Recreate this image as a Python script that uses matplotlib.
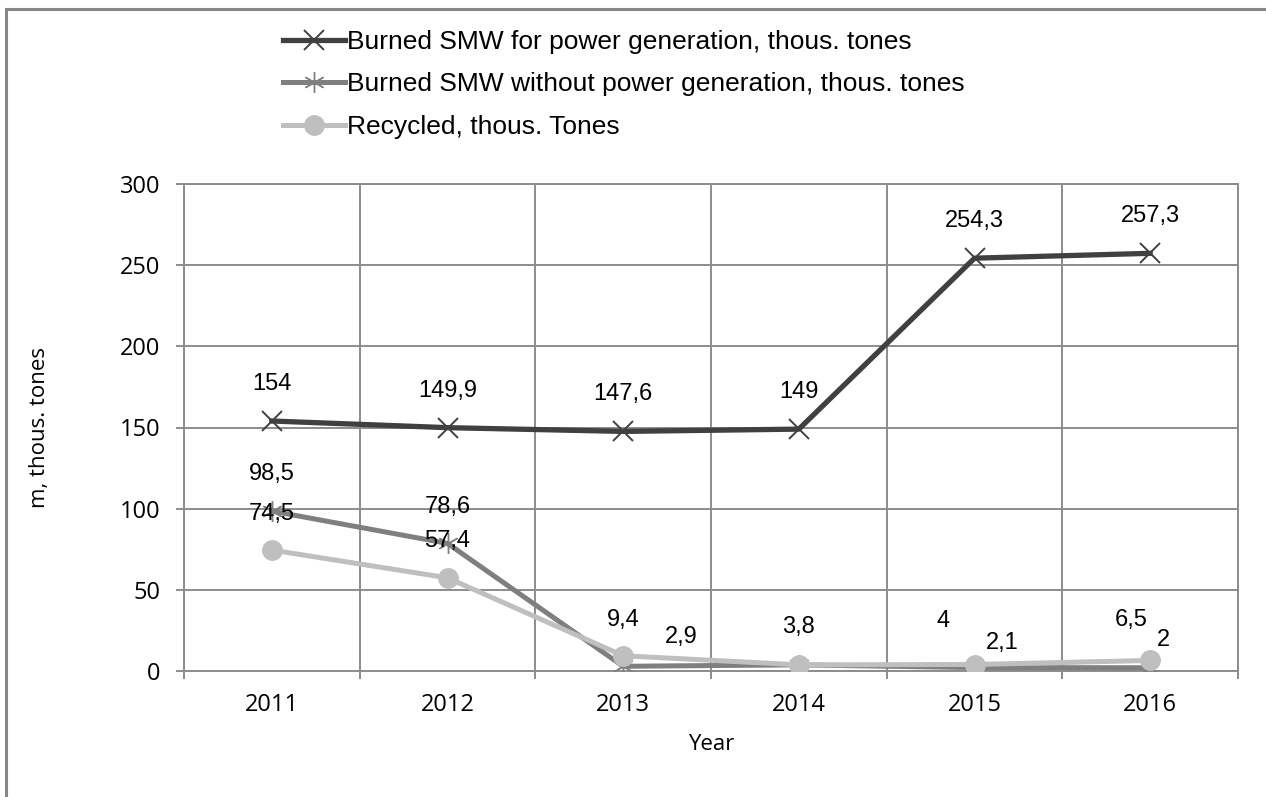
import matplotlib
matplotlib.use("Agg")
import matplotlib.pyplot as plt
from matplotlib.lines import Line2D
from matplotlib.patches import Rectangle

years = ["2011", "2012", "2013", "2014", "2015", "2016"]
burned_power = [154, 149.9, 147.6, 149, 254.3, 257.3]
burned_no_power = [98.5, 78.6, 2.9, 3.8, 2.1, 2]
recycled = [74.5, 57.4, 9.4, 3.8, 4, 6.5]
labels_power = ["154", "149,9", "147,6", "149", "254,3", "257,3"]
labels_no_power = ["98,5", "78,6", "2,9", "", "2,1", "2"]  # 2014 label hidden under recycled label
labels_recycled = ["74,5", "57,4", "9,4", "3,8", "4", "6,5"]
series_names = ["Burned SMW for power generation, thous. tones",
                "Burned SMW without power generation, thous. tones",
                "Recycled, thous. Tones"]

# label offsets in pixels (dx, dy)
off_power = [(0, 37)] * 6
off_no_power = [(0, 37), (0, 36), (58, 29), (0, 38), (28, 25), (13, 28)]
off_recycled = [(0, 36), (0, 37), (0, 36), (0, 38), (-31, 44), (-19, 40)]

W, H = 1266, 797
fig = plt.figure(figsize=(W / 100, H / 100), dpi=100)
fig.patch.set_facecolor("white")

narrow = ["Liberation Sans", "DejaVu Sans"]
tickfont = ["Open Sans", "DejaVu Sans"]

ax = fig.add_axes([184 / W, 1 - 671 / H, (1238 - 184) / W, (671 - 184) / H])
x = list(range(len(years)))

c1, c2, c3 = "#404040", "#7f7f7f", "#bfbfbf"
st1 = dict(color=c1, lw=3.8, marker="x", ms=14, mew=1.4, mec=c1)
st2 = dict(color=c2, lw=3.6, marker=(6, 2, 0), ms=15, mew=1.0, mec=c2)
st3 = dict(color=c3, lw=3.6, marker="o", ms=14, mfc=c3, mec=c3)
ax.plot(x, burned_power, zorder=5, **st1)
ax.plot(x, burned_no_power, zorder=4, **st2)
ax.plot(x, recycled, zorder=6, **st3)

for vals, labs, offs in [(burned_power, labels_power, off_power),
                         (burned_no_power, labels_no_power, off_no_power),
                         (recycled, labels_recycled, off_recycled)]:
    for i, (v, l, o) in enumerate(zip(vals, labs, offs)):
        if not l:
            continue
        ax.annotate(l, (i, v), xytext=o, textcoords="offset pixels",
                    ha="center", va="center", fontsize=17, family=narrow,
                    color="black", zorder=10)

ax.set_xlim(-0.5, len(years) - 0.5)
ax.set_ylim(0, 300)
ax.set_yticks(range(0, 301, 50))
ax.set_xticks(x)
ax.set_xticklabels(years)
ax.set_xticks([i - 0.5 for i in range(len(years) + 1)], minor=True)

gc = "#8c8c8c"
ax.grid(True, axis="y", which="major", color=gc, lw=1.4)
ax.grid(True, axis="x", which="minor", color=gc, lw=1.4)
ax.set_axisbelow(True)
for s in ax.spines.values():
    s.set_color(gc)
    s.set_linewidth(1.4)

ax.tick_params(axis="x", which="major", length=0, pad=16, labelsize=17)
ax.tick_params(axis="x", which="minor", length=6, width=1.4, color=gc, direction="out")
ax.tick_params(axis="y", which="major", length=6, width=1.4, color=gc, pad=11, labelsize=17)
for t in ax.get_xticklabels() + ax.get_yticklabels():
    t.set_family(tickfont)

ax.set_xlabel("Year", fontsize=16, family=tickfont)
ax.set_ylabel("m, thous. tones", fontsize=16, family=tickfont)
ax.xaxis.set_label_coords(0.5, (671 - 745) / 487, transform=ax.transAxes)
ax.yaxis.set_label_coords((40 - 184) / 1054, 0.5, transform=ax.transAxes)
ax.xaxis.label.set_va("center")
ax.yaxis.label.set_va("center")

handles = [Line2D([], [], **st1), Line2D([], [], **st2), Line2D([], [], **st3)]
fig.legend(handles, series_names, loc="upper left",
           bbox_to_anchor=(283 / W, 1 - 30 / H), frameon=False,
           prop={"family": narrow, "size": 19}, handlelength=2.35,
           handletextpad=0.08, labelspacing=0.7, borderpad=0, borderaxespad=0)

fig.patches.append(Rectangle((5.5 / W, -0.05), 1.2, 1 - 9 / H + 0.05,
                             transform=fig.transFigure, fill=False,
                             edgecolor="#878787", lw=2.2))

fig.savefig("out.png", dpi=100, facecolor="white")
